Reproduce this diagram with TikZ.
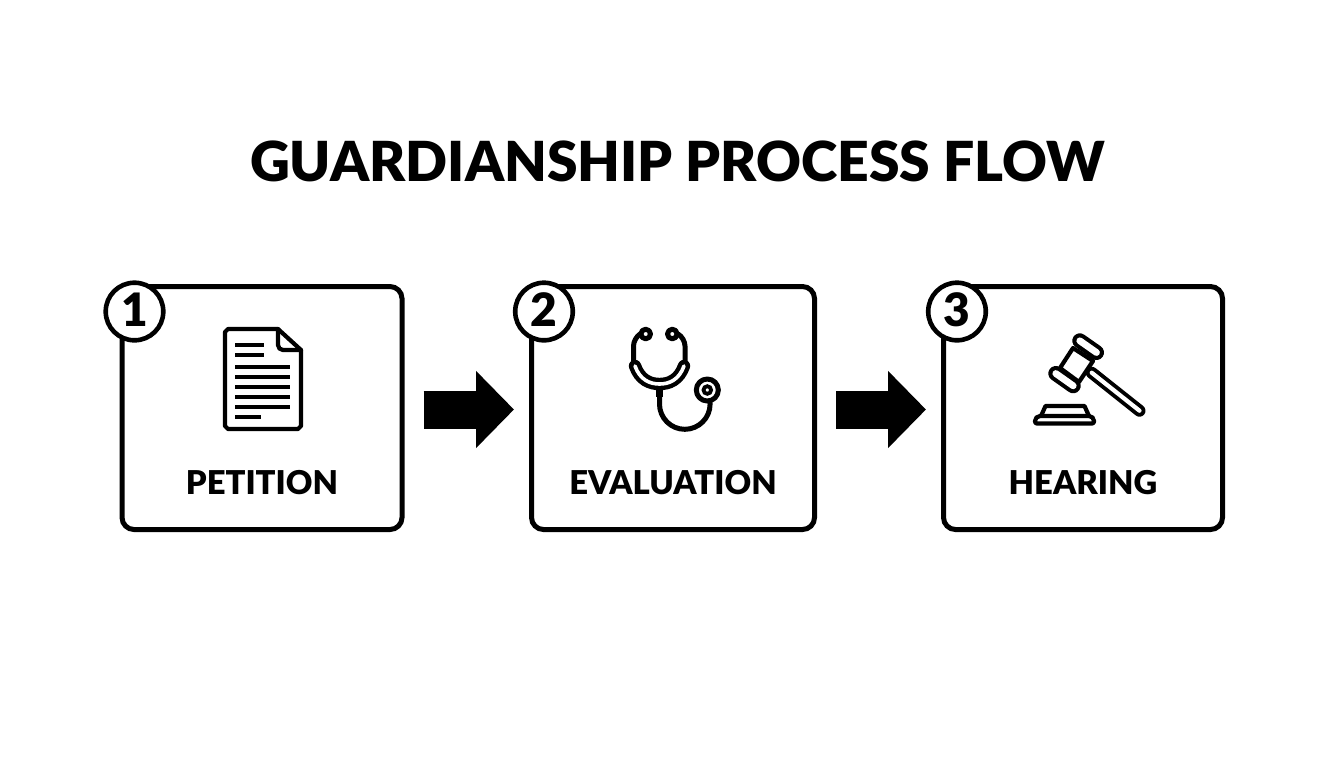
\documentclass[tikz,border=0pt]{standalone}
\usepackage{fontspec}
\setmainfont[BoldFont={Lato Black}]{Lato}
\usetikzlibrary{arrows.meta,positioning}
\tikzset{
	box/.style={draw,line width=2.5pt,rounded corners=6pt,minimum height=121.5pt,inner sep=0pt},
	badge/.style={draw,fill=white,circle,line width=2.3pt,minimum size=28.8pt,inner sep=0pt,font=\bfseries\fontsize{23}{23}\selectfont},
	boxlabel/.style={inner sep=0pt,font=\bfseries\fontsize{16.4}{17}\selectfont},
	flow/.style={line width=19pt,-{Triangle[length=19pt,width=37.5pt]}},
	icon/.style={line width=2.1pt,line cap=round,line join=round},
	tube/.style={line width=2.5pt,line cap=round,line join=round},
	blackcore/.style={line width=#1,line cap=round},
	whitecore/.style={line width=#1,line cap=round,white}
}
\begin{document}
\begin{tikzpicture}[x=0.5pt,y=-0.5pt,on grid]
	\useasboundingbox (0,0) rectangle (1344,768);
	\node[inner sep=0pt,font=\bfseries\fontsize{27.6}{30}\selectfont] (title) at (677.5,161) {GUARDIANSHIP PROCESS FLOW};

	\node[box,minimum width=140pt] (box_1) at (262,408) {};
	\node[box,minimum width=141.5pt] (box_2) [right=205.5pt of box_1] {};
	\node[box,minimum width=139.5pt] (box_3) [right=205pt of box_2] {};

	\node[badge] (badge_1) at ([shift={(15,27.5)}]box_1.north west) {\raisebox{1.6pt}{1}};
	\node[badge] (badge_2) at ([shift={(15,27.5)}]box_2.north west) {\raisebox{1.6pt}{2}};
	\node[badge] (badge_3) at ([shift={(16,27.5)}]box_3.north west) {\raisebox{1.6pt}{3}};

	\node[boxlabel] (label_1) [below=37.5pt of box_1] {PETITION};
	\node[boxlabel] (label_2) [below=37.5pt of box_2] {EVALUATION};
	\node[boxlabel] (label_3) [below=37.5pt of box_3] {HEARING};

	\draw[flow,shorten <=9.5pt,shorten >=7.5pt] ([yshift=-0.75pt]box_1.east) -- ([yshift=-0.75pt]box_2.west);
	\draw[flow,shorten <=9.5pt,shorten >=7.5pt] ([yshift=-0.75pt]box_2.east) -- ([yshift=-0.75pt]box_3.west);

	% document
	\draw[icon] (278,329) -- (228,329) -- (225,332) -- (225,426) -- (228,429) -- (298,429) -- (301,426) -- (301,350) -- cycle;
	\draw[icon,rounded corners=2.5pt] (278,329) -- (278,350) -- (301,350);
	\foreach \y/\xend in {345/264,355/264,367/290,377/290,387/290,397/290,407/290,417/261}
		\draw[line width=2pt] (235,\y) -- (\xend,\y);

	% stethoscope
	\draw[tube,rounded corners=4pt] (640,334) -- (633.5,338) -- (633.5,364);
	\draw[tube,rounded corners=4pt] (678,334) -- (685,338) -- (685,364);
	\draw[blackcore=6.2pt] (635,366) .. controls (640,380) and (650,384) .. (659.5,384) .. controls (669,384) and (679,380) .. (684,366);
	\draw[whitecore=1.8pt] (635,366) .. controls (640,380) and (650,384) .. (659.5,384) .. controls (669,384) and (679,380) .. (684,366);
	\draw[line width=3.5pt] (659.5,388) -- (659.5,397);
	\draw[tube] (659.5,397) -- (659.5,404) arc[start angle=180,end angle=0,radius=25.3] -- (709,398);
	\draw[tube,fill=white] (645.7,334) circle[radius=4.8];
	\draw[tube,fill=white] (672.3,334) circle[radius=4.8];
	\draw[tube,fill=white] (707.3,390) circle[radius=11];
	\draw[line width=1.9pt] (707.3,390) circle[radius=3.8];

	% gavel
	\draw[blackcore=6pt] (1091.7,372.7) -- (1139.5,410.7);
	\draw[whitecore=2.1pt] (1091.7,372.7) -- (1139.5,410.7);
	\draw[icon,fill=white] (1073,348) -- (1093,361) -- (1079,382) -- (1060,368) -- cycle;
	\draw[blackcore=7.5pt] (1079.8,340.8) -- (1096.5,352.5);
	\draw[whitecore=3.4pt] (1079.8,340.8) -- (1096.5,352.5);
	\draw[blackcore=7.5pt] (1055.8,373.5) -- (1073.2,385.8);
	\draw[whitecore=3.4pt] (1055.8,373.5) -- (1073.2,385.8);
	\draw[icon] (1041,416) -- (1045.5,406) -- (1084.5,406) -- (1089,416);
	\draw[icon,rounded corners=1pt] (1035,423.5) -- (1035,419) -- (1038,416) -- (1091,416) -- (1094,419) -- (1094,423.5) -- cycle;
\end{tikzpicture}
\end{document}
